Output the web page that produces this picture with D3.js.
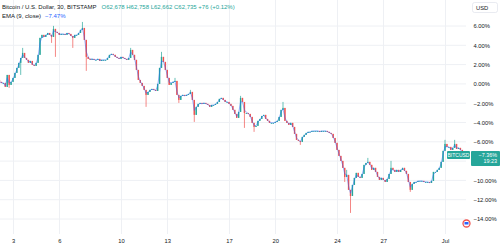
<!DOCTYPE html>
<html>
<head>
<meta charset="utf-8">
<script src="https://cdn.jsdelivr.net/npm/d3@7"></script>
<style>
  body { margin: 0; background: #fff; }
  svg { display: block; font-family: "Liberation Sans", Arial, sans-serif; }
</style>
</head>
<body>
<svg id="chart" width="500" height="247"></svg>
<script>
// 3-hour candles of BTCUSD, as % change
const startTime = new Date(2024, 5, 2, 3);
const stepHours = 3;
const firstOpen = 0.41;
const closes = [
  0.21, 0.10, 0.10, -0.31, 0.93, -0.10, 0.21, 0.62, 1.14, 1.66,
  2.18, 2.69, 3.21, 2.69, 2.49, 2.18, 2.38, 1.97, 1.87, 2.18,
  3.01, 4.77, 5.08, 4.87, 5.08, 5.28, 5.08, 4.87, 5.70, 5.39,
  5.28, 5.08, 5.18, 5.18, 5.08, 5.28, 5.18, 4.97, 4.77, 5.08,
  5.08, 5.28, 5.60, 5.80, 4.56, 2.80, 2.59, 2.49, 2.59, 2.49,
  2.49, 2.59, 2.38, 2.49, 2.49, 2.49, 2.69, 3.01, 3.11, 3.01,
  2.80, 2.69, 2.59, 2.80, 2.69, 2.59, 2.49, 2.69, 3.52, 3.01,
  2.49, 1.45, 0.41, 0.10, -0.21, -0.62, -1.14, -0.83, -0.62, -0.52,
  -0.62, -0.73, 0.00, 1.66, 2.80, 2.28, 1.45, 0.62, -0.10, 0.10,
  0.21, 0.31, -1.14, -1.66, -1.24, -1.14, -1.24, -1.14, -1.04, -0.83,
  -1.66, -3.21, -2.38, -2.07, -1.97, -2.07, -1.97, -2.07, -2.18, -2.38,
  -2.18, -2.18, -2.07, -1.87, -1.55, -1.45, -1.66, -1.87, -1.87, -2.07,
  -2.28, -2.69, -3.11, -3.52, -2.90, -1.45, -1.87, -3.01, -3.01, -3.11,
  -3.42, -4.04, -4.46, -4.35, -3.83, -3.63, -3.32, -3.21, -3.63, -3.83,
  -4.04, -4.04, -4.04, -3.94, -3.83, -3.42, -2.69, -2.49, -3.83, -4.04,
  -4.25, -4.04, -4.46, -5.18, -5.80, -5.91, -6.01, -5.49, -5.28, -5.08,
  -4.97, -4.97, -4.87, -4.87, -4.87, -4.87, -4.97, -4.87, -4.87, -4.87,
  -4.97, -5.08, -5.18, -5.60, -6.11, -6.84, -7.46, -7.98, -8.70, -9.64,
  -9.43, -10.98, -11.61, -10.47, -9.74, -9.22, -9.64, -9.74, -9.33, -8.39,
  -8.19, -8.08, -8.39, -8.91, -8.70, -9.12, -9.64, -9.95, -9.74, -9.95,
  -10.16, -9.85, -9.33, -8.70, -8.91, -9.12, -8.91, -9.12, -8.91, -8.70,
  -9.01, -9.33, -10.16, -10.98, -10.36, -10.16, -10.16, -10.05, -10.05, -10.05,
  -10.16, -10.16, -10.16, -10.26, -10.05, -9.12, -9.12, -8.91, -8.70, -8.08,
  -6.94, -6.22, -6.53, -6.53, -6.84, -6.63, -6.22, -6.74, -6.63, -6.84,
  -7.36
];
// [candle index, high, low] for the wicks that stick out of the bodies
const wicks = [
  [5, null, -0.41], [11, null, 0.93], [12, 3.73, null], [27, null, 4.25],
  [28, 6.01, null], [29, null, 2.80], [38, null, 3.73], [43, 6.42, null],
  [45, null, 1.35], [68, 3.73, null], [76, null, -2.38], [84, 3.32, null],
  [91, 0.62, null], [93, null, -1.97], [99, -0.62, null], [101, null, -3.94],
  [125, -1.24, null], [127, -2.69, -4.56], [132, null, -4.97], [147, -1.87, null],
  [156, null, -6.32], [179, null, -10.16], [180, -8.91, null], [182, null, -13.37],
  [191, -7.67, null], [203, -7.98, null], [213, null, -11.19], [231, -5.80, null],
  [236, -5.80, null]
];
const yTicks = [6, 4, 2, 0, -2, -4, -6, -8, -10, -12, -14];
const xTickDates = [
  new Date(2024, 5, 3), new Date(2024, 5, 6), new Date(2024, 5, 10),
  new Date(2024, 5, 13), new Date(2024, 5, 17), new Date(2024, 5, 20),
  new Date(2024, 5, 24), new Date(2024, 5, 27), new Date(2024, 6, 1)
];
const xTickLabels = ["3", "6", "10", "13", "17", "20", "24", "27", "Jul"];
const emaLength = 9;
const emaValue = -7.47;
const lastLabel = "−7.36%";
const countdown = "19:23";

const up = "#26a69a", down = "#ef5350";

// build candles
let candles = closes.map((c, i) => {
  let o = i === 0 ? firstOpen : closes[i - 1];
  return {
    t: new Date(startTime.getTime() + i * stepHours * 3600e3),
    o: o, c: c, h: Math.max(o, c), l: Math.min(o, c)
  };
});
for (let [i, h, l] of wicks) {
  if (h != null) candles[i].h = h;
  if (l != null) candles[i].l = l;
}

// EMA of 30-min closes, folded to the 3-hour step
let alpha = 1 - Math.pow(1 - 2 / (emaLength + 1), stepHours * 2);
let ema = [];
candles.forEach((d, i) => {
  ema.push(i === 0 ? d.c : ema[i - 1] + alpha * (d.c - ema[i - 1]));
});

const svg = d3.select("#chart");

const x = d3.scaleTime()
  .domain([new Date(2024, 5, 3), new Date(2024, 6, 1)])
  .range([13, 445]);
const y = d3.scaleLinear().domain([6, -14]).range([26, 219]);

const plotRight = 466;
const lastClose = closes[closes.length - 1];

// grid
svg.append("g").selectAll("line.h")
  .data(yTicks).join("line")
  .attr("x1", 0).attr("x2", plotRight)
  .attr("y1", d => y(d)).attr("y2", d => y(d))
  .attr("stroke", "#eef0f4").attr("stroke-width", 1);
svg.append("g").selectAll("line.v")
  .data(xTickDates).join("line")
  .attr("x1", d => Math.round(x(d)) + 0.5).attr("x2", d => Math.round(x(d)) + 0.5)
  .attr("y1", 0).attr("y2", 234)
  .attr("stroke", "#eef0f4").attr("stroke-width", 1);

// candles
let cg = svg.append("g");
cg.selectAll(".wick")
  .data(candles).join("line")
  .attr("class", "wick")
  .attr("x1", d => x(d.t)).attr("x2", d => x(d.t))
  .attr("y1", d => y(d.h)).attr("y2", d => y(d.l))
  .attr("stroke", d => d.c >= d.o ? up : down)
  .attr("stroke-width", 0.7);
cg.selectAll(".body")
  .data(candles).join("rect")
  .attr("class", "body")
  .attr("x", d => x(d.t) - 0.7)
  .attr("width", 1.4)
  .attr("y", d => y(Math.max(d.o, d.c)))
  .attr("height", d => Math.max(0.9, Math.abs(y(d.o) - y(d.c))))
  .attr("fill", d => d.c >= d.o ? up : down);

// EMA line
svg.append("path")
  .datum(ema)
  .attr("fill", "none")
  .attr("stroke", "#2962ff")
  .attr("stroke-opacity", 0.6)
  .attr("stroke-width", 0.8)
  .attr("d", d3.line().x((d, i) => x(candles[i].t)).y(d => y(d)));

// price scale (the -8% label sits under the last price box)
let yAxis = d3.axisRight(y)
  .tickValues(yTicks.filter(v => Math.abs(v - lastClose) > 1))
  .tickSize(0).tickPadding(0)
  .tickFormat(d => d3.format(".2f")(d) + "%");
svg.append("g")
  .attr("transform", "translate(473.5,0)")
  .call(yAxis)
  .call(g => g.select(".domain").remove())
  .call(g => g.selectAll("text")
    .attr("font-size", 5.8).attr("fill", "#131722")
    .attr("font-family", "Liberation Sans, Arial, sans-serif"));

// time scale
let xAxis = d3.axisBottom(x).tickValues(xTickDates).tickSize(0).tickPadding(3)
  .tickFormat((d, i) => xTickLabels[i]);
svg.append("g")
  .attr("transform", "translate(0,236)")
  .call(xAxis)
  .call(g => g.select(".domain").remove())
  .call(g => g.selectAll("text")
    .attr("font-size", 5.8).attr("fill", "#131722")
    .attr("font-family", "Liberation Sans, Arial, sans-serif"));

// last price labels
let lastY = y(lastClose);
svg.append("rect")
  .attr("x", 447).attr("y", lastY - 4).attr("width", 23).attr("height", 8)
  .attr("rx", 1).attr("fill", up);
svg.append("text")
  .attr("x", 458.5).attr("y", lastY + 1.8).attr("text-anchor", "middle")
  .attr("font-size", 5).attr("fill", "#fff").text("BITCUSD");
svg.append("rect")
  .attr("x", 471).attr("y", lastY - 4).attr("width", 29).attr("height", 15)
  .attr("rx", 1).attr("fill", up);
svg.append("text")
  .attr("x", 497).attr("y", lastY + 1.8).attr("text-anchor", "end")
  .attr("font-size", 5.4).attr("fill", "#fff").text(lastLabel);
svg.append("text")
  .attr("x", 497).attr("y", lastY + 8.3).attr("text-anchor", "end")
  .attr("font-size", 5.4).attr("fill", "#fff").text(countdown);

// currency box
svg.append("rect")
  .attr("x", 472.5).attr("y", 2.5).attr("width", 25).attr("height", 10)
  .attr("rx", 2).attr("fill", "#fff").attr("stroke", "#e0e3eb").attr("stroke-width", 0.7);
svg.append("text")
  .attr("x", 476).attr("y", 9.5).attr("font-size", 5.8).attr("fill", "#131722").text("USD");

// legend
let l1 = svg.append("text").attr("x", 2).attr("y", 9).attr("font-size", 6);
l1.append("tspan").attr("fill", "#131722").text("Bitcoin / U.S. Dollar, 30, BITSTAMP");
l1.append("tspan").attr("fill", up).attr("dx", 5)
  .text("O62,678  H62,758  L62,662  C62,735  +76 (+0.12%)");
let l2 = svg.append("text").attr("x", 2).attr("y", 18).attr("font-size", 6);
l2.append("tspan").attr("fill", "#131722").text("EMA (9, close)");
l2.append("tspan").attr("fill", "#2962ff").attr("dx", 4)
  .text(d3.format(".2f")(emaValue) + "%");

// small logo mark bottom right
svg.append("circle").attr("cx", 466.5).attr("cy", 223.5).attr("r", 3.5)
  .attr("fill", "#fff").attr("stroke", "#ef5350").attr("stroke-width", 1.3);
svg.append("path").attr("d", "M464.5,222 h4 v2.5 h-4 z").attr("fill", "#2962ff");
</script>
</body>
</html>
